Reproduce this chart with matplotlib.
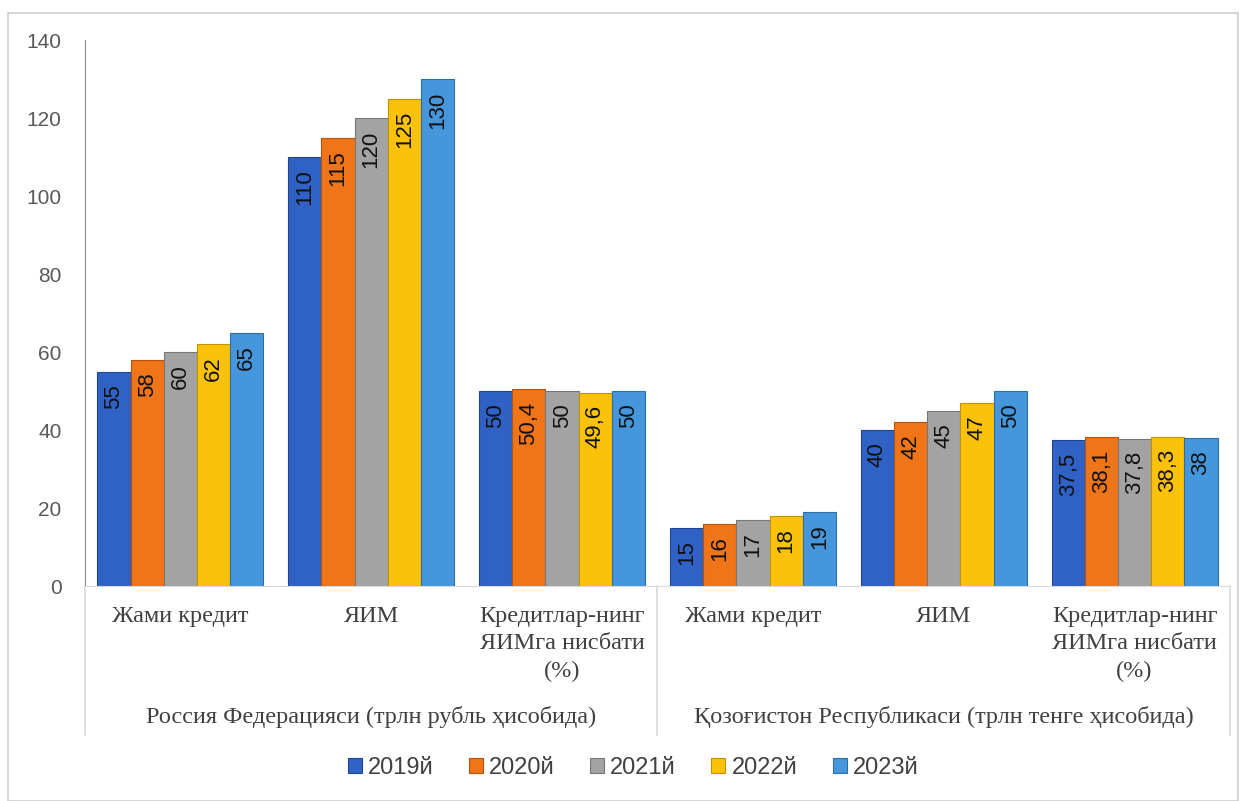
import matplotlib.pyplot as plt
from matplotlib.patches import Rectangle
from matplotlib.lines import Line2D

# data
categories = ["Жами кредит", "ЯИМ", "Кредитлар-нинг\nЯИМга нисбати\n(%)",
              "Жами кредит", "ЯИМ", "Кредитлар-нинг\nЯИМга нисбати\n(%)"]
groups = ["Россия Федерацияси (трлн рубль ҳисобида)",
          "Қозоғистон Республикаси (трлн тенге ҳисобида)"]
years = ["2019й", "2020й", "2021й", "2022й", "2023й"]
v2019 = [55, 110, 50, 15, 40, 37.5]
v2020 = [58, 115, 50.4, 16, 42, 38.1]
v2021 = [60, 120, 50, 17, 45, 37.8]
v2022 = [62, 125, 49.6, 18, 47, 38.3]
v2023 = [65, 130, 50, 19, 50, 38]
series = [v2019, v2020, v2021, v2022, v2023]
colors = ["#2f62c4", "#f07418", "#a3a3a3", "#fcc20a", "#4696dc"]
edges = ["#1f4690", "#b4530c", "#777777", "#c29200", "#2f6fa8"]

W, H = 1244, 801
fig = plt.figure(figsize=(W / 100, H / 100), dpi=100)
fig.patches.append(Rectangle((8 / W, 0), (1238 - 8) / W, 1 - 13 / H,
                             transform=fig.transFigure, fill=False,
                             edgecolor="#d0d0d0", linewidth=1.2))

x0, x1, y0, y1 = 85, 1230, 586, 40
ax = fig.add_axes([x0 / W, 1 - y0 / H, (x1 - x0) / W, (y0 - y1) / H])

n = len(series)
bw = 0.87 / n
for i, (vals, c, ec) in enumerate(zip(series, colors, edges)):
    xs = [k - 0.435 + bw * (i + 0.5) for k in range(len(categories))]
    bars = ax.bar(xs, vals, width=bw, color=c, edgecolor=ec, linewidth=0.8,
                  label=years[i])
    for b, v in zip(bars, vals):
        ax.annotate(f"{v:g}".replace(".", ","),
                    (b.get_x() + b.get_width() / 2, v), xytext=(0, -9),
                    textcoords="offset points", rotation=90, ha="center",
                    va="top", fontsize=16, family="Liberation Sans",
                    color="#111111")

ax.set_xlim(-0.5, len(categories) - 0.5)
ax.set_ylim(0, 140)
ax.set_yticks(range(0, 141, 20))
ax.set_xticks([])
ax.tick_params(axis="y", length=0, pad=17, labelsize=15, labelcolor="#595959")
for lab in ax.get_yticklabels():
    lab.set_family("Liberation Sans")
for s in ["top", "right"]:
    ax.spines[s].set_visible(False)
ax.spines["left"].set_color("#8c8c8c")
ax.spines["bottom"].set_color("#d9d9d9")

# hierarchical category axis
for k, lab in enumerate(categories):
    ax.text(k, -0.036, lab, transform=ax.get_xaxis_transform(), ha="center",
            va="top", fontsize=17.5, family="Liberation Serif", color="#404040",
            linespacing=1.4)
for g, lab in enumerate(groups):
    ax.text(1 + 3 * g, -0.24, lab, transform=ax.get_xaxis_transform(),
            ha="center", va="center", fontsize=17.5, family="Liberation Serif",
            color="#404040")
for xs in [-0.5, 2.5, 5.5]:
    ax.add_line(Line2D([xs, xs], [0, -0.273], transform=ax.get_xaxis_transform(),
                       color="#d9d9d9", linewidth=1.2, clip_on=False))

leg = fig.legend(loc="center", bbox_to_anchor=(633 / W, 1 - 768 / H), ncol=5,
                 frameon=False, handlelength=0.6, handleheight=0.6,
                 handletextpad=0.25, columnspacing=1.5,
                 prop={"family": "Liberation Sans", "size": 17})
for t in leg.get_texts():
    t.set_color("#404040")

fig.savefig("out.png", dpi=100, facecolor="white")
